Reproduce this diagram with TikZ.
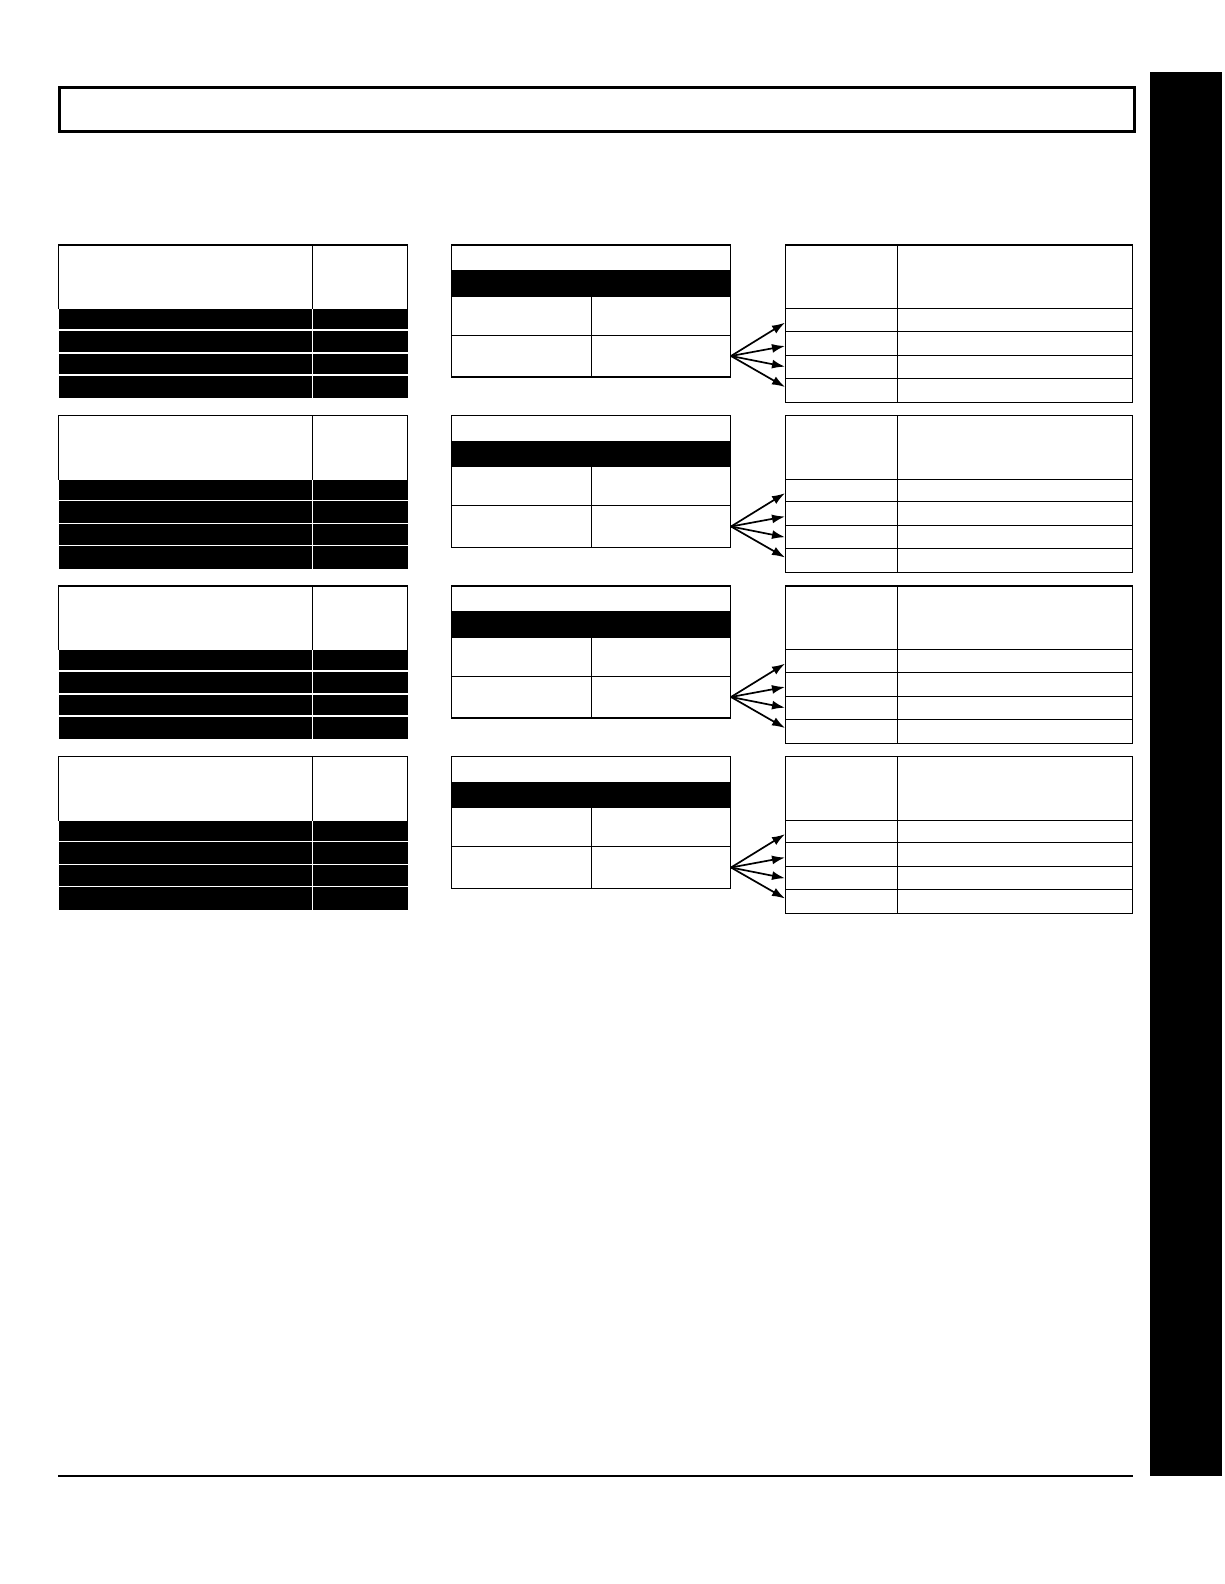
\documentclass[tikz,border=0pt]{standalone}
\usetikzlibrary{arrows.meta}
\begin{document}
\begin{tikzpicture}[x=1pt,y=-1pt,
  tline/.style={line width=1.1pt,black},
  hline/.style={line width=1.3pt,black},
  wline/.style={line width=1.1pt,white},
  arr/.style={line width=1.7pt,-{Latex[length=13pt,width=9pt]}},
  titlebox/.style={line width=3pt},
  rule/.style={line width=2.5pt}]
\useasboundingbox (0,0) rectangle (1224,1584);
% title box and side bar
\draw[titlebox] (59.8,87.5) rectangle (1134.5,131.5);
\fill (1150,72) rectangle (1222,1476);
\draw[rule] (58,1476) -- (1133,1476);
\foreach \i in {0,1,2,3}{
  \pgfmathsetmacro\t{245+170.5*\i}
  % left table
  \fill ({58.6},{\t+64}) rectangle ({407.5},{\t+153});
  \draw[hline] (58.6,{\t+64}) -- (58.6,\t) -- (407.5,\t) -- (407.5,{\t+64});
  \draw[hline] (312.5,\t) -- (312.5,{\t+64});
  \foreach \r in {85,108,130}{
    \draw[wline] (58.6,{\t+\r}) -- (407.5,{\t+\r});
  }
  \draw[wline] (312.5,{\t+64}) -- (312.5,{\t+153});
  % middle table
  \fill (451.5,{\t+25}) rectangle (730.5,{\t+51.7});
  \draw[tline] (451.5,\t) rectangle (730.5,{\t+132});
  \draw[tline] (451.5,{\t+90.3}) -- (730.5,{\t+90.3});
  \draw[tline] (591.3,{\t+51.7}) -- (591.3,{\t+132});
  % right table
  \draw[tline] (785.3,\t) rectangle (1132.7,{\t+157.3});
  \foreach \r in {63.7,86.3,110.3,133.3}{
    \draw[tline] (785.3,{\t+\r}) -- (1132.7,{\t+\r});
  }
  \draw[tline] (897.3,\t) -- (897.3,{\t+157.3});
  % arrows
  \coordinate (src\i) at (731,{\t+111});
  \coordinate (a\i) at (785,{\t+77.7});
  \coordinate (b\i) at (785,{\t+101});
  \coordinate (c\i) at (785,{\t+121.7});
  \coordinate (d\i) at (785,{\t+142});
  \draw[arr] (src\i) -- (a\i);
  \draw[arr] (src\i) -- (b\i);
  \draw[arr] (src\i) -- (c\i);
  \draw[arr] (src\i) -- (d\i);
}
\end{tikzpicture}
\end{document}
